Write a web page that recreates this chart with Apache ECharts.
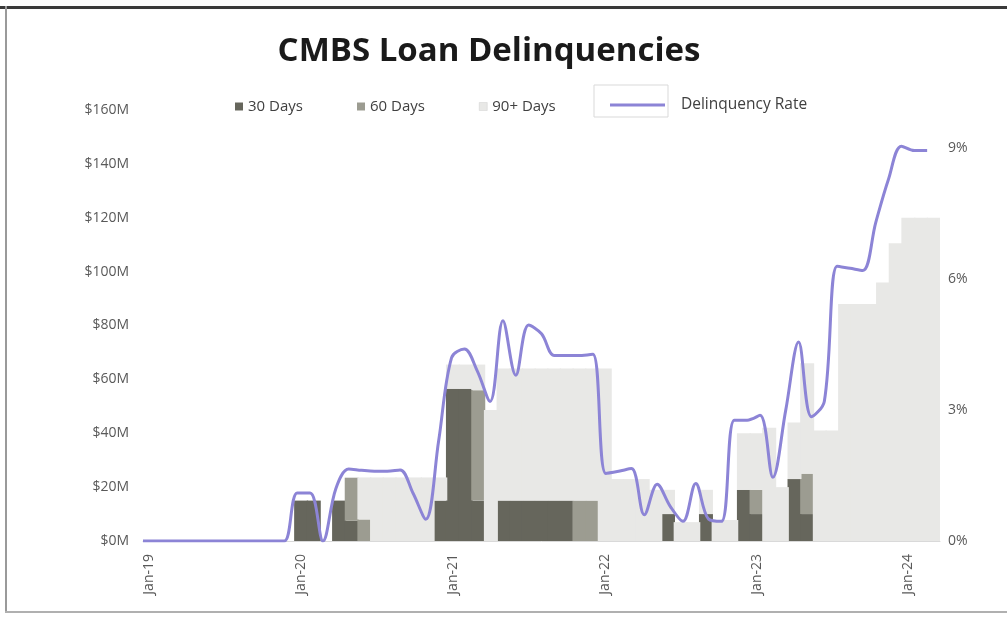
<!DOCTYPE html>
<html>
<head>
<meta charset="utf-8">
<script src="https://cdn.jsdelivr.net/npm/echarts@6/dist/echarts.min.js"></script>
<style>
  html, body { margin: 0; padding: 0; background: #fff; }
  #chart { width: 1007px; height: 617px; }
</style>
</head>
<body>
<div id="chart"></div>
<script>
// month labels Jan-19 .. Mar-24
const monthNames = ['Jan', 'Feb', 'Mar', 'Apr', 'May', 'Jun', 'Jul', 'Aug', 'Sep', 'Oct', 'Nov', 'Dec']
const months = []
for (let y = 19; y <= 24; y++) {
  monthNames.forEach(m => { if (months.length < 63) months.push(m + '-' + y) })
}

// $M, stacked: 30 days at bottom, then 60 days, then 90+ days
const days30 = [
  0, 0, 0, 0, 0, 0, 0, 0, 0, 0, 0, 0,
  15, 15, 0, 15, 7.5, 0, 0, 0, 0, 0, 0, 15,
  56.5, 56.5, 15, 0, 15, 15, 15, 15, 15, 15, 0, 0,
  0, 0, 0, 0, 0, 10, 0, 0, 10, 0, 0, 19,
  10, 0, 0, 23, 10, 0, 0, 0, 0, 0, 0, 0,
  0, 0, 0
]
const days60 = [
  0, 0, 0, 0, 0, 0, 0, 0, 0, 0, 0, 0,
  0, 0, 0, 0, 16, 8, 0, 0, 0, 0, 0, 0,
  0, 0, 41, 0, 0, 0, 0, 0, 0, 0, 15, 15,
  0, 0, 0, 0, 0, 0, 0, 0, 0, 0, 0, 0,
  9, 0, 0, 0, 15, 0, 0, 0, 0, 0, 0, 0,
  0, 0, 0
]
const days90 = [
  0, 0, 0, 0, 0, 0, 0, 0, 0, 0, 0, 0,
  0, 0, 0, 0, 0, 15.6, 23.6, 23.6, 23.6, 23.6, 23.6, 8.6,
  9, 9, 9.5, 48.6, 49, 49, 49, 49, 49, 49, 49, 49,
  64, 23, 23, 23, 19, 9, 7, 7, 9, 7.8, 7.8, 21,
  21, 42, 20, 21, 41, 41, 41, 88, 88, 88, 96, 110.5,
  120, 120, 120
]
// delinquency rate, % (Jan-19 .. Feb-24)
const rate = [
  0, 0, 0, 0, 0, 0, 0, 0, 0, 0, 0, 0,
  1.1, 1.1, 0, 1.2, 1.65, 1.62, 1.6, 1.6, 1.63, 1.1, 0.5, 2.3,
  4.2, 4.4, 3.9, 3.2, 5.05, 3.8, 4.95, 4.75, 4.25, 4.25, 4.25, 4.28,
  1.55, 1.6, 1.66, 0.6, 1.3, 0.8, 0.45, 1.32, 0.5, 0.45, 2.77, 2.77,
  2.88, 1.46, 3.0, 4.56, 2.85, 3.2, 6.3, 6.25, 6.2, 7.3, 8.3, 9.05,
  8.95, 8.95
]

const labelColor = '#595959'
const font = 'Open Sans'

const noZero = arr => arr.map(v => (v === 0 ? null : v))

// one legend per entry so each sits where the reference puts it
const barLegend = (name, left, extra) => ({
  left: left,
  top: 94,
  itemWidth: 8,
  itemHeight: 8,
  icon: 'rect',
  textStyle: { fontFamily: font, fontSize: 15, color: '#404040' },
  data: [Object.assign({ name: name }, extra || {})]
})

const chart = echarts.init(document.getElementById('chart'))
const option = {
  animation: false,
  title: {
    text: 'CMBS Loan Delinquencies',
    left: 484,
    top: 30,
    textAlign: 'center',
    textStyle: { fontFamily: font, fontSize: 33, fontWeight: 'bold', color: '#1a1a1a' }
  },
  graphic: [
    { type: 'rect', shape: { x: 0, y: 6, width: 1007, height: 3 }, style: { fill: '#3a3a3a' } },
    { type: 'rect', shape: { x: 5, y: 6, width: 2, height: 607 }, style: { fill: '#9a9a9a' } },
    { type: 'rect', shape: { x: 5, y: 611, width: 1002, height: 2 }, style: { fill: '#b0b0b0' } },
    { type: 'rect', shape: { x: 594, y: 85, width: 74, height: 32 }, style: { fill: '#fff', stroke: '#d9d9d9', lineWidth: 1 } }
  ],
  legend: [
    barLegend('30 Days', 230),
    barLegend('60 Days', 352),
    barLegend('90+ Days', 474, { itemStyle: { borderColor: '#cfcfcf', borderWidth: 0.5 } }),
    {
      left: 605,
      top: 92,
      itemWidth: 55,
      itemHeight: 3,
      icon: 'rect',
      textStyle: { fontFamily: font, fontSize: 15.5, color: '#404040', padding: [0, 0, 0, 11] },
      data: ['Delinquency Rate']
    }
  ],
  grid: { left: 143, right: 67, top: 110, bottom: 76 },
  xAxis: [
    {
      type: 'category',
      data: months,
      boundaryGap: true,
      axisLine: { lineStyle: { color: '#d9d9d9', width: 1 } },
      axisTick: { show: false },
      axisLabel: {
        interval: idx => idx % 12 === 0,
        rotate: 90,
        margin: 13,
        fontFamily: font,
        fontSize: 14,
        color: labelColor
      }
    },
    {
      type: 'category',
      data: months,
      boundaryGap: false,
      show: false
    }
  ],
  yAxis: [
    {
      type: 'value',
      min: 0,
      max: 160,
      interval: 20,
      splitLine: { show: false },
      axisLine: { show: false },
      axisLabel: {
        margin: 14,
        fontFamily: font,
        fontSize: 14,
        color: labelColor,
        formatter: v => '$' + v + 'M'
      }
    },
    {
      type: 'value',
      min: 0,
      max: 9.88,
      interval: 3,
      splitLine: { show: false },
      axisLine: { show: false },
      axisLabel: {
        margin: 8,
        fontFamily: font,
        fontSize: 14,
        color: labelColor,
        showMaxLabel: false,
        formatter: v => (v % 3 === 0 ? v + '%' : '')
      }
    }
  ],
  series: [
    {
      name: '30 Days',
      type: 'bar',
      stack: 'loans',
      barWidth: 14, // a touch wider than a month so neighbouring bars leave no seam
      itemStyle: { color: '#66665c' },
      data: noZero(days30)
    },
    {
      name: '60 Days',
      type: 'bar',
      stack: 'loans',
      barWidth: 14,
      itemStyle: { color: '#9c9c91' },
      data: noZero(days60)
    },
    {
      name: '90+ Days',
      type: 'bar',
      stack: 'loans',
      barWidth: 14,
      itemStyle: { color: '#e8e8e6' },
      data: noZero(days90)
    },
    {
      name: 'Delinquency Rate',
      type: 'line',
      xAxisIndex: 1,
      yAxisIndex: 1,
      smooth: 0.35,
      symbol: 'none',
      lineStyle: { color: '#8c84d6', width: 3 },
      itemStyle: { color: '#8c84d6' },
      data: rate
    }
  ]
}
chart.setOption(option)
</script>
</body>
</html>
